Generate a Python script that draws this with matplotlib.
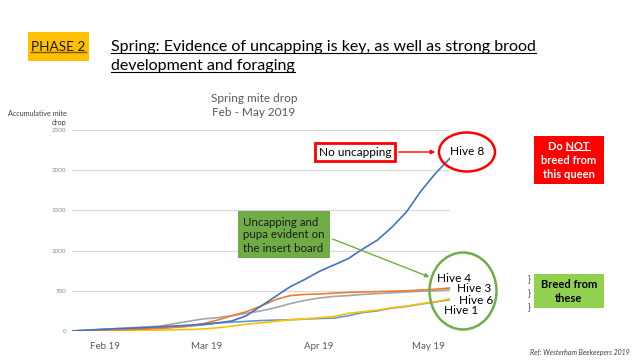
import matplotlib
matplotlib.use('Agg')
import matplotlib.pyplot as plt
from matplotlib.patches import Ellipse, Rectangle, FancyArrowPatch
import datetime as dt

plt.rcParams['font.family'] = ['Lato', 'DejaVu Sans']

#############################
# data ######################
#############################

# sample dates, every 4 days
dates = [dt.date(2019, 1, 23) + dt.timedelta(days=4 * k) for k in range(27)]

hive8 = [0, 10, 20, 28, 35, 42, 52, 62, 72, 85, 100, 125, 190, 310, 430, 550,
         640, 740, 820, 900, 1020, 1130, 1290, 1480, 1740, 1960, 2150]
hive4 = [0, 5, 10, 15, 20, 25, 32, 45, 60, 90, 135, 190, 240, 310, 390, 440,
         455, 460, 470, 480, 485, 490, 495, 500, 510, 520, 535]
hive3 = [0, 10, 20, 30, 40, 50, 60, 90, 120, 150, 165, 190, 220, 250, 290, 340,
         380, 410, 430, 440, 455, 465, 475, 485, 495, 500, 515]
hive6 = [0, 2, 4, 6, 8, 10, 12, 15, 18, 25, 40, 60, 85, 100, 120, 140,
         150, 165, 180, 220, 240, 260, 290, 310, 340, 365, 400]
hive1 = [0, 8, 15, 20, 25, 30, 38, 45, 60, 75, 100, 110, 120, 130, 135, 140,
         148, 155, 160, 190, 230, 250, 285, 305, 335, 360, 390]

month_ticks = [dt.date(2019, 2, 1), dt.date(2019, 3, 1), dt.date(2019, 4, 1), dt.date(2019, 5, 1)]
month_labels = ['Feb 19', 'Mar 19', 'Apr 19', 'May 19']

#############################
# figure ####################
#############################

W, H = 640, 360
fig = plt.figure(figsize=(6.4, 3.6), dpi=100)

def fx(x):
    return x / W

def fy(y):
    return 1 - y / H

ax = fig.add_axes([fx(72), fy(331), (450 - 72) / W, (331 - 130) / H])

ax.plot(dates, hive1, color='#5B9BD5', lw=1.2)
ax.plot(dates, hive6, color='#FFC000', lw=1.2)
ax.plot(dates, hive3, color='#A5A5A5', lw=1.2)
ax.plot(dates, hive4, color='#ED7D31', lw=1.2)
ax.plot(dates, hive8, color='#4472C4', lw=1.2)

ax.set_xlim(dt.date(2019, 1, 23), dt.date(2019, 5, 7))
ax.set_ylim(0, 2500)
ax.set_yticks(range(0, 2501, 500))
ax.set_xticks(month_ticks)
ax.set_xticklabels(month_labels)
ax.grid(axis='y', color='#D9D9D9', lw=0.8)
ax.set_axisbelow(True)
for s in ax.spines.values():
    s.set_visible(False)
ax.tick_params(axis='y', length=0, pad=4, labelsize=4.5, labelcolor='#8C8C8C')
ax.tick_params(axis='x', length=0, pad=8, labelsize=7, labelcolor='#595959')

# chart title and axis title
fig.text(fx(254), fy(98), 'Spring mite drop', ha='center', va='center', fontsize=8.5, color='#595959')
fig.text(fx(254), fy(113), 'Feb - May 2019', ha='center', va='center', fontsize=8.5, color='#595959')
fig.text(fx(67), fy(114), 'Accumulative mite', ha='right', va='center', fontsize=5.2, color='#404040')
fig.text(fx(67), fy(122), 'drop', ha='right', va='center', fontsize=5.2, color='#404040')

#############################
# slide header ##############
#############################

fig.patches.append(Rectangle((fx(28), fy(61)), (89 - 28) / W, (61 - 32) / H,
                             transform=fig.transFigure, facecolor='#FFC000', edgecolor='none'))
t_phase = fig.text(fx(58.5), fy(47), 'PHASE 2', ha='center', va='center', fontsize=9.8, color='#1a1a1a')
t_l1 = fig.text(fx(111), fy(47), 'Spring: Evidence of uncapping is key, as well as strong brood',
                ha='left', va='center', fontsize=11.5, color='black')
t_l2 = fig.text(fx(111), fy(66), 'development and foraging',
                ha='left', va='center', fontsize=11.5, color='black')

#############################
# callouts ##################
#############################

def box(x0, y0, x1, y1, fc, ec='none', lw=0):
    fig.patches.append(Rectangle((fx(x0), fy(y1)), (x1 - x0) / W, (y1 - y0) / H,
                                 transform=fig.transFigure, facecolor=fc, edgecolor=ec, lw=lw))

# no uncapping
box(315, 143, 395, 161, 'white', '#FF0000', 2)
fig.text(fx(355), fy(152), 'No uncapping', ha='center', va='center', fontsize=8.5)
fig.patches.append(FancyArrowPatch((fx(396), fy(152)), (fx(438), fy(152)), transform=fig.transFigure,
                                   arrowstyle='-|>', mutation_scale=6, color='#FF0000', lw=1))
fig.patches.append(Ellipse((fx(467), fy(152)), 56 / W, 39 / H, transform=fig.transFigure,
                           facecolor='none', edgecolor='#FF0000', lw=1.8))
fig.text(fx(467), fy(151), 'Hive 8', ha='center', va='center', fontsize=8.5)

# uncapping evident
box(238, 211, 330, 258, '#70AD47')
fig.text(fx(243), fy(222), 'Uncapping and', ha='left', va='center', fontsize=8.3, color='#1a1a1a')
fig.text(fx(243), fy(235), 'pupa evident on', ha='left', va='center', fontsize=8.3, color='#1a1a1a')
fig.text(fx(243), fy(249), 'the insert board', ha='left', va='center', fontsize=8.3, color='#1a1a1a')
fig.patches.append(FancyArrowPatch((fx(330), fy(238)), (fx(432), fy(278)), transform=fig.transFigure,
                                   arrowstyle='-|>', mutation_scale=6, color='#70AD47', lw=1))
fig.patches.append(Ellipse((fx(463), fy(291)), 67 / W, 77 / H, transform=fig.transFigure,
                           facecolor='none', edgecolor='#70AD47', lw=1.8))
fig.text(fx(437), fy(278), 'Hive 4', ha='left', va='center', fontsize=8.5)
fig.text(fx(457), fy(289), 'Hive 3', ha='left', va='center', fontsize=8.5)
fig.text(fx(459), fy(300), 'Hive 6', ha='left', va='center', fontsize=8.5)
fig.text(fx(444), fy(311), 'Hive 1', ha='left', va='center', fontsize=8.5)

# do not breed
box(534, 136, 604, 184, '#FF0000')
t_do = fig.text(fx(569), fy(146), 'Do NOT', ha='center', va='center', fontsize=8, color='white', weight='bold')
fig.text(fx(569), fy(160), 'breed from', ha='center', va='center', fontsize=8, color='white', weight='bold')
fig.text(fx(569), fy(174), 'this queen', ha='center', va='center', fontsize=8, color='white', weight='bold')

# breed from these
box(534, 274, 604, 308, '#92D050')
fig.text(fx(569), fy(284), 'Breed from', ha='center', va='center', fontsize=8, color='black', weight='bold')
fig.text(fx(569), fy(298), 'these', ha='center', va='center', fontsize=8, color='black', weight='bold')
for yy in [280, 294, 308]:
    fig.text(fx(529), fy(yy), '}', ha='center', va='center', fontsize=7, color='#404040')

fig.text(fx(630), fy(353), 'Ref: Westerham Beekeepers 2019', ha='right', va='center',
         fontsize=5, style='italic', color='#404040')

#############################
# underlines ################
#############################

fig.canvas.draw()
rend = fig.canvas.get_renderer()

def underline(t, color='black', lw=0.8, x_from=None):
    bb = t.get_window_extent(rend)
    x0 = bb.x0 if x_from is None else x_from
    yline = bb.y0 + 1
    fig.add_artist(plt.Line2D([x0 / W, bb.x1 / W], [yline / H, yline / H],
                              transform=fig.transFigure, color=color, lw=lw))

underline(t_phase, color='#7a5a00', lw=1)
underline(t_l1)
underline(t_l2)

# only NOT underlined
bb_do = t_do.get_window_extent(rend)
tmp = fig.text(0, 0, 'NOT', fontsize=8, weight='bold')
w_not = tmp.get_window_extent(rend).width
tmp.remove()
underline(t_do, color='white', lw=0.8, x_from=bb_do.x1 - w_not)

fig.savefig('out.png', dpi=100)
